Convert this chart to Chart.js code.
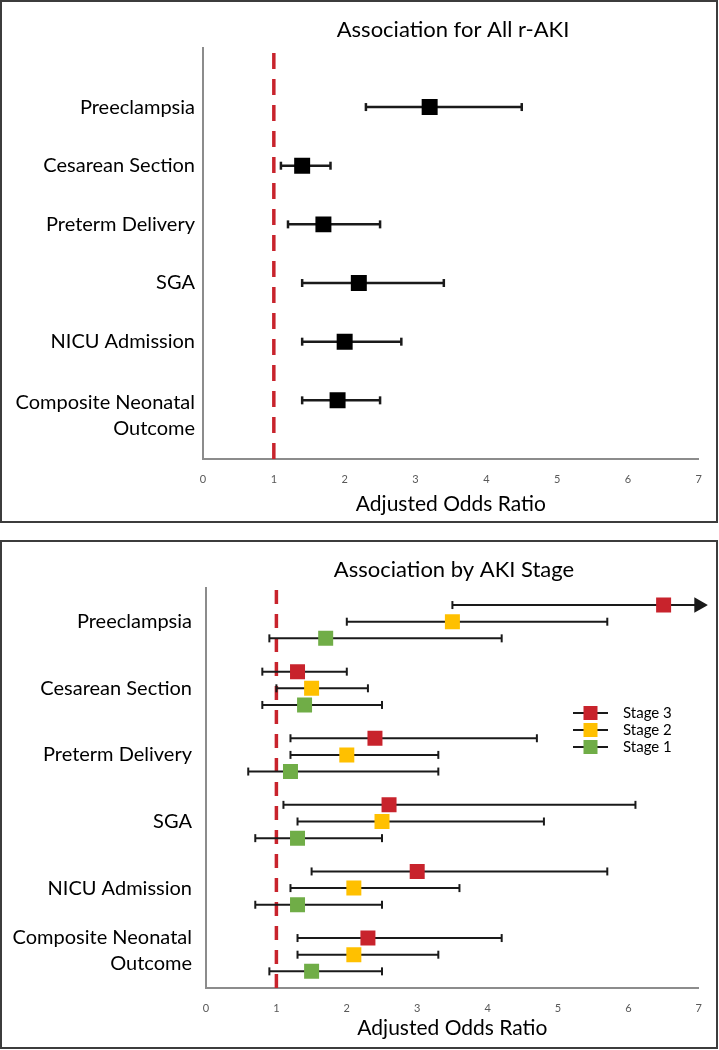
<!DOCTYPE html>
<html>
<head>
<meta charset="utf-8">
<script src="https://cdn.jsdelivr.net/npm/chart.js@4.4.1/dist/chart.umd.min.js"></script>
<style>
  body { margin: 0; background: #fff; }
  .panel { position: absolute; left: 0; width: 718px; box-sizing: border-box; border: 2px solid #3c3c3c; background: #fff; }
  #topPanel { top: 0; height: 523px; }
  #bottomPanel { top: 540px; height: 509px; }
  canvas { display: block; }
</style>
</head>
<body>
<div class="panel" id="topPanel"><canvas id="allChart" width="714" height="519"></canvas></div>
<div class="panel" id="bottomPanel"><canvas id="stageChart" width="714" height="505"></canvas></div>
<script>
// ===== Data =====
const categories = ['Preeclampsia', 'Cesarean Section', 'Preterm Delivery', 'SGA', 'NICU Admission', ['Composite Neonatal', 'Outcome']];
const xTicks = [0, 1, 2, 3, 4, 5, 6, 7];
const refValue = 1;

// all r-AKI
const allOR    = [3.2, 1.4, 1.7, 2.2, 2.0, 1.9];
const allLower = [2.3, 1.1, 1.2, 1.4, 1.4, 1.4];
const allUpper = [4.5, 1.8, 2.5, 3.4, 2.8, 2.5];

// by AKI stage (upper of 7 = runs off the axis, drawn as arrow)
const stageNames  = ['Stage 3', 'Stage 2', 'Stage 1'];
const stageColors = ['#c8232c', '#ffc000', '#70ad47'];
const stage3OR    = [6.5, 1.3, 2.4, 2.6, 3.0, 2.3];
const stage3Lower = [3.5, 0.8, 1.2, 1.1, 1.5, 1.3];
const stage3Upper = [7.0, 2.0, 4.7, 6.1, 5.7, 4.2];
const stage2OR    = [3.5, 1.5, 2.0, 2.5, 2.1, 2.1];
const stage2Lower = [2.0, 1.0, 1.2, 1.3, 1.2, 1.3];
const stage2Upper = [5.7, 2.3, 3.3, 4.8, 3.6, 3.3];
const stage1OR    = [1.7, 1.4, 1.2, 1.3, 1.3, 1.5];
const stage1Lower = [0.9, 0.8, 0.6, 0.7, 0.7, 0.9];
const stage1Upper = [4.2, 2.5, 3.3, 2.5, 2.5, 2.5];

const xMax = xTicks[xTicks.length - 1];
const FONT = 'Lato, "Open Sans", sans-serif';
Chart.defaults.font.family = FONT;
Chart.defaults.color = '#000';

// row positions on the y scale (first category on top)
const allRows = categories.map((c, i) => categories.length - i);
const groupRows = categories.map((c, i) => categories.length - i - 0.5);
const stageShift = [0.25, 0, -0.25];

// ===== Plugins =====
const categoryLabels = {
  id: 'categoryLabels',
  afterDraw(chart, args, opts) {
    const { ctx, chartArea, scales: { y } } = chart;
    ctx.save();
    ctx.font = '20px ' + FONT;
    ctx.fillStyle = '#000';
    ctx.textAlign = 'right';
    ctx.textBaseline = 'middle';
    categories.forEach((label, i) => {
      const lines = Array.isArray(label) ? label : [label];
      const yPix = y.getPixelForValue(opts.rows[i]);
      const start = lines.length > 1 ? yPix + opts.multiShift : yPix;
      lines.forEach((line, k) => ctx.fillText(line, chartArea.left - opts.gap, start + k * 26));
    });
    ctx.restore();
  }
};

const stageLegend = {
  id: 'stageLegend',
  afterDraw(chart, args, opts) {
    const ctx = chart.ctx;
    ctx.save();
    stageNames.forEach((name, i) => {
      const y = opts.y + i * opts.rowHeight;
      ctx.strokeStyle = '#1a1a1a';
      ctx.lineWidth = 2;
      ctx.beginPath();
      ctx.moveTo(opts.x, y);
      ctx.lineTo(opts.x + 35, y);
      ctx.stroke();
      ctx.fillStyle = stageColors[i];
      ctx.fillRect(opts.x + 17.5 - 7, y - 7, 14, 14);
      ctx.fillStyle = '#000';
      ctx.font = '15px ' + FONT;
      ctx.textAlign = 'left';
      ctx.textBaseline = 'middle';
      ctx.fillText(name, opts.x + 50, y);
    });
    ctx.restore();
  }
};

// ===== Dataset builders =====
function ciDatasets(lower, upper, rows, width) {
  return lower.map((lo, i) => {
    const open = upper[i] >= xMax;
    return {
      type: 'scatter', showLine: true, order: 2, clip: false,
      data: [{ x: lo, y: rows[i] }, { x: upper[i], y: rows[i] }],
      borderColor: '#1a1a1a', borderWidth: width,
      pointStyle: ['line', open ? 'triangle' : 'line'],
      pointRotation: 90,
      pointRadius: [4, open ? 7 : 4],
      pointBorderColor: '#1a1a1a', pointBackgroundColor: '#1a1a1a',
      pointBorderWidth: width
    };
  });
}

function pointDataset(values, rows, color, radius) {
  return {
    type: 'scatter', order: 0,
    data: values.map((v, i) => ({ x: v, y: rows[i] })),
    pointStyle: 'rect', pointRadius: radius,
    backgroundColor: color, pointBorderWidth: 0
  };
}

function refLine(yMax, dash) {
  return {
    type: 'scatter', showLine: true, order: 3,
    data: [{ x: refValue, y: 0 }, { x: refValue, y: yMax }],
    borderColor: '#c8232c', borderWidth: 3.5, borderDash: dash, pointRadius: 0
  };
}

function makeOptions(title, yMax, padLeft, padRight, axisHeight, titlePadBottom, labelOpts) {
  return {
    responsive: false,
    animation: false,
    events: [],
    layout: { padding: { left: padLeft, right: padRight, top: 0, bottom: 0 } },
    plugins: {
      legend: { display: false },
      tooltip: { enabled: false },
      title: {
        display: true, text: title, color: '#000',
        font: { size: 22, weight: 'normal' },
        padding: { top: 15, bottom: 5 }
      },
      categoryLabels: labelOpts
    },
    scales: {
      x: {
        type: 'linear', min: 0, max: xMax,
        afterBuildTicks: s => { s.ticks = xTicks.map(v => ({ value: v })); },
        afterFit: s => { s.height = axisHeight; },
        grid: { display: false, drawTicks: false },
        border: { display: true, color: '#8c8c8c', width: 2 },
        ticks: { color: '#595959', font: { size: 11 }, padding: 14 },
        title: {
          display: true, text: 'Adjusted Odds Ratio', color: '#000',
          font: { size: 21 }, padding: { top: 0, bottom: titlePadBottom }
        }
      },
      y: {
        type: 'linear', min: 0, max: yMax,
        grid: { display: false, drawTicks: false },
        border: { display: true, color: '#8c8c8c', width: 2 },
        ticks: { display: false }
      }
    }
  };
}

// ===== Association for All r-AKI =====
new Chart(document.getElementById('allChart'), {
  type: 'scatter',
  data: {
    datasets: [
      pointDataset(allOR, allRows, '#000', 11.3),
      ...ciDatasets(allLower, allUpper, allRows, 2.5),
      refLine(7, [16, 10])
    ]
  },
  options: makeOptions('Association for All r-AKI', 7, 201, 13, 62, 4,
    { rows: allRows, gap: 8, multiShift: 2 }),
  plugins: [categoryLabels]
});

// ===== Association by AKI Stage =====
const stageOR = [stage3OR, stage2OR, stage1OR];
const stageLower = [stage3Lower, stage2Lower, stage1Lower];
const stageUpper = [stage3Upper, stage2Upper, stage1Upper];
const stageSets = [];
stageOR.forEach((vals, s) => {
  const rows = groupRows.map(r => r + stageShift[s]);
  stageSets.push(pointDataset(vals, rows, stageColors[s], 10.6));
  stageSets.push(...ciDatasets(stageLower[s], stageUpper[s], rows, 2));
});
stageSets.push(refLine(6, [14, 10]));

const stageOpts = makeOptions('Association by AKI Stage', 6, 204, 14, 59, 6,
  { rows: groupRows, gap: 14, multiShift: -17 });
stageOpts.plugins.stageLegend = { x: 571, y: 171, rowHeight: 17 };

new Chart(document.getElementById('stageChart'), {
  type: 'scatter',
  data: { datasets: stageSets },
  options: stageOpts,
  plugins: [categoryLabels, stageLegend]
});
</script>
</body>
</html>
